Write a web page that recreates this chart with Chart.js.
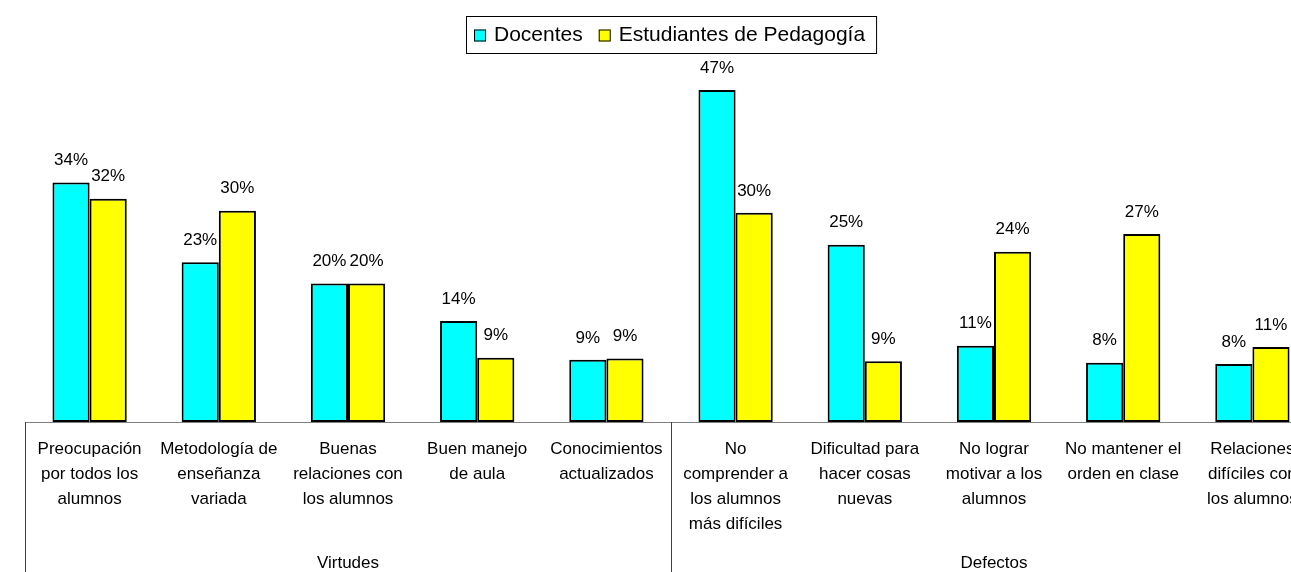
<!DOCTYPE html>
<html>
<head>
<meta charset="utf-8">
<script src="https://cdn.jsdelivr.net/npm/chart.js@4/dist/chart.umd.min.js"></script>
<style>
html,body{margin:0;padding:0;background:#fff;overflow:hidden;}
#wrap{width:1291px;height:572px;overflow:hidden;position:relative;}
canvas{display:block;}
</style>
</head>
<body>
<div id="wrap"><canvas id="c" width="1318" height="572"></canvas></div>
<script>
const categories = [
  ["Preocupación", "por todos los", "alumnos"],
  ["Metodología de", "enseñanza", "variada"],
  ["Buenas", "relaciones con", "los alumnos"],
  ["Buen manejo", "de aula"],
  ["Conocimientos", "actualizados"],
  ["No", "comprender a", "los alumnos", "más difíciles"],
  ["Dificultad para", "hacer cosas", "nuevas"],
  ["No lograr", "motivar a los", "alumnos"],
  ["No mantener el", "orden en clase"],
  ["Relaciones", "difíciles con", "los alumnos"]
];
const seriesNames = ["Docentes", "Estudiantes de Pedagogía"];
const docentes   = [33.9, 22.6, 19.6, 14.3, 8.8, 47.0, 25.1, 10.8, 8.4, 8.2];
const estudiantes = [31.6, 29.9, 19.6, 9.1, 9.0, 29.6, 8.6, 24.1, 26.6, 10.6];
const groups = [
  {name: "Virtudes", from: 0, to: 4},
  {name: "Defectos", from: 5, to: 9}
];
const colors = ["#00FFFF", "#FFFF00"];

const FONT = "'Liberation Sans', Arial, sans-serif";

const overlay = {
  id: 'overlay',
  afterDatasetsDraw(chart) {
    const ctx = chart.ctx;
    ctx.save();
    ctx.fillStyle = '#000';
    ctx.font = '17px ' + FONT;
    ctx.textAlign = 'center';
    ctx.textBaseline = 'middle';
    chart.data.datasets.forEach((ds, di) => {
      const meta = chart.getDatasetMeta(di);
      meta.data.forEach((bar, i) => {
        const v = ds.data[i];
        ctx.fillText(Math.round(v) + '%', bar.x, bar.y - 22);
      });
    });
    ctx.restore();
  },
  afterDraw(chart) {
    const ctx = chart.ctx;
    const xs = chart.scales.x;
    const area = chart.chartArea;
    const base = area.bottom;
    const catW = (area.right - area.left) / categories.length;
    ctx.save();
    // axis line
    ctx.strokeStyle = '#808080';
    ctx.lineWidth = 1;
    ctx.beginPath();
    ctx.moveTo(area.left, base + 0.5);
    ctx.lineTo(area.right, base + 0.5);
    ctx.stroke();
    // group dividers
    ctx.strokeStyle = '#404040';
    const edges = [area.left];
    groups.forEach(g => edges.push(xs.getPixelForValue(g.to) + catW / 2));
    edges.forEach(x => {
      const px = Math.round(x) + 0.5;
      ctx.beginPath();
      ctx.moveTo(px, base);
      ctx.lineTo(px, chart.height);
      ctx.stroke();
    });
    // category labels
    ctx.fillStyle = '#000';
    ctx.font = '17px ' + FONT;
    ctx.textAlign = 'center';
    ctx.textBaseline = 'middle';
    categories.forEach((lines, i) => {
      const x = xs.getPixelForValue(i);
      lines.forEach((ln, k) => ctx.fillText(ln, x, base + 27 + k * 25));
    });
    // group labels
    groups.forEach(g => {
      const x1 = xs.getPixelForValue(g.from) - catW / 2;
      const x2 = xs.getPixelForValue(g.to) + catW / 2;
      ctx.fillText(g.name, (x1 + x2) / 2, base + 141);
    });
    // legend
    ctx.font = '21px ' + FONT;
    const sq = 12, gapSq = 8, gapItem = 16, pad = 8;
    const widths = seriesNames.map(n => ctx.measureText(n).width);
    const total = pad + sq + gapSq + widths[0] + gapItem + sq + gapSq + widths[1] + pad + 3;
    const cx = (area.left + area.right) / 2;
    const lx = Math.round(cx - total / 2);
    const ly = 16, lh = 37;
    ctx.strokeStyle = '#000';
    ctx.lineWidth = 1;
    ctx.strokeRect(lx + 0.5, ly + 0.5, total, lh);
    let x = lx + pad;
    const cy = ly + lh / 2 + 1;
    ctx.textAlign = 'left';
    seriesNames.forEach((n, i) => {
      ctx.fillStyle = colors[i];
      ctx.fillRect(x, cy - 6, sq, sq);
      ctx.strokeStyle = '#000';
      ctx.strokeRect(x + 0.5, cy - 6 + 0.5, sq - 1, sq - 1);
      x += sq + gapSq;
      ctx.fillStyle = '#000';
      ctx.fillText(n, x, cy);
      x += widths[i] + gapItem;
    });
    ctx.restore();
  }
};

new Chart(document.getElementById('c'), {
  type: 'bar',
  data: {
    labels: categories.map(l => l.join(' ')),
    datasets: [
      {label: seriesNames[0], data: docentes, backgroundColor: colors[0], borderColor: '#000', borderWidth: 2, borderSkipped: false},
      {label: seriesNames[1], data: estudiantes, backgroundColor: colors[1], borderColor: '#000', borderWidth: 2, borderSkipped: false}
    ]
  },
  options: {
    responsive: false,
    animation: false,
    devicePixelRatio: 1,
    layout: {padding: {left: 25, right: 1, top: 0, bottom: 150}},
    plugins: {legend: {display: false}, tooltip: {enabled: false}},
    scales: {
      x: {display: false, offset: true, grid: {display: false}},
      y: {display: false, min: 0, max: 59.73}
    },
    datasets: {bar: {categoryPercentage: 0.575, barPercentage: 1}}
  },
  plugins: [overlay]
});
</script>
</body>
</html>
